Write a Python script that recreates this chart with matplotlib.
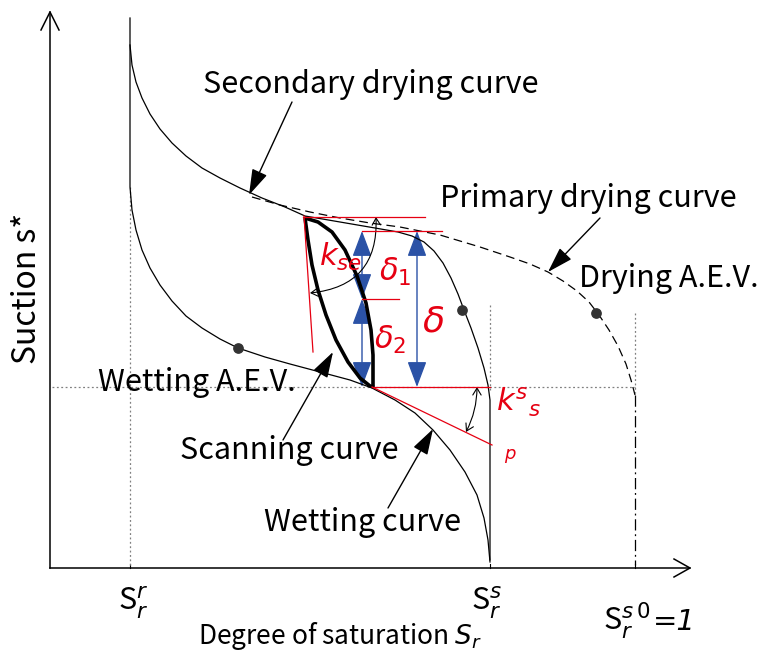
import matplotlib
matplotlib.use("Agg")
import matplotlib.pyplot as plt
from matplotlib.patches import FancyArrowPatch

plt.rcParams['font.family'] = ['Noto Sans CJK JP', 'DejaVu Sans']
plt.rcParams['mathtext.fontset'] = 'dejavusans'

# Schematic drawn in picture coordinates (x right, y down)
# Secondary drying curve (solid), ends on the S_r^s vertical
sec_dry_x = [130, 130, 132, 136, 142, 150, 160, 172, 186, 202, 220, 240, 262, 285, 305, 340, 375, 398, 412, 424, 434, 443, 451, 458, 464, 471, 478, 484, 488, 490, 490]
sec_dry_y = [18, 45, 65, 82, 98, 114, 129, 143, 156, 168, 178, 188, 198, 207, 216, 222, 228, 232, 236, 242, 251, 263, 278, 294, 310, 328, 348, 368, 385, 400, 560]

# Primary drying curve (dashed)
pri_dry_x = [252, 280, 310, 340, 370, 400, 440, 480, 510, 530, 548, 563, 577, 589, 599, 609, 618, 626, 631, 635]
pri_dry_y = [197, 205, 212, 218, 223, 227, 235, 247, 257, 264, 272, 281, 291, 302, 315, 330, 346, 364, 380, 395]

# Wetting curve
wet_x = [130, 130, 132, 136, 142, 150, 160, 172, 186, 202, 220, 238, 265, 290, 320, 350, 372, 395, 415, 433, 450, 465, 477, 484, 488, 490]
wet_y = [45, 187, 210, 230, 250, 268, 285, 301, 316, 328, 339, 348, 357, 364, 372, 380, 388, 400, 413, 430, 450, 472, 495, 518, 540, 562]

# Scanning curve, two branches
scan_l_x = [305, 308, 312, 318, 326, 336, 348, 360, 370, 374]
scan_l_y = [218, 240, 265, 290, 315, 340, 362, 378, 386, 387]
scan_r_x = [305, 318, 332, 345, 357, 366, 371, 373, 373]
scan_r_y = [218, 222, 232, 250, 276, 303, 330, 355, 387]

# A.E.V. points
aev_x = [238, 462, 596]
aev_y = [348, 310, 313]

# levels
s_top, s_mid1, s_mid2, s_bot = 217, 231, 299, 387
sr_r, sr_s, sr_1 = 130, 490, 635

fig = plt.figure(figsize=(7.63, 6.54), dpi=100)
ax = fig.add_axes([0, 0, 1, 1])
ax.set_xlim(0, 763)
ax.set_ylim(654, 0)
ax.axis('off')

K = 'black'
RED = '#e60012'
BLUE = '#2b52a6'
GRAY = '#808080'

# axes with open arrow heads
ax.plot([50, 50], [568, 12], color=K, lw=1.1)
ax.plot([41, 50, 59], [30, 12, 30], color=K, lw=1.1)
ax.plot([50, 690], [568, 568], color=K, lw=1.1)
ax.plot([674, 690, 674], [559, 568, 577], color=K, lw=1.1)
for xt in [sr_r, sr_s, sr_1]:
    ax.plot([xt, xt], [568, 564], color=K, lw=0.8)

# dotted guides
ax.plot([52, sr_1], [s_bot, s_bot], color=GRAY, lw=0.9, ls=(0, (1.5, 2)))
ax.plot([sr_r, sr_r], [187, 566], color=GRAY, lw=0.9, ls=(0, (1.5, 2)))
ax.plot([sr_s, sr_s], [305, 390], color=GRAY, lw=0.9, ls=(0, (1.5, 2)))
ax.plot([sr_1, sr_1], [313, 393], color=GRAY, lw=0.9, ls=(0, (1.5, 2)))

# curves
ax.plot(sec_dry_x, sec_dry_y, color=K, lw=0.9)
ax.plot(pri_dry_x, pri_dry_y, color=K, lw=0.9, ls=(0, (7, 4)))
ax.plot([sr_1, sr_1], [395, 565], color=K, lw=0.9, ls=(0, (9, 3, 1.5, 3)))
ax.plot(wet_x, wet_y, color=K, lw=0.9)
ax.plot(scan_l_x, scan_l_y, color=K, lw=2.6, solid_capstyle='butt')
ax.plot(scan_r_x, scan_r_y, color=K, lw=2.6, solid_capstyle='butt')
ax.scatter(aev_x, aev_y, s=45, color='#333333', zorder=5)

# red construction lines
ax.plot([303, 425], [s_top, s_top], color=RED, lw=0.9)
ax.plot([362, 442], [s_mid1, s_mid1], color=RED, lw=0.9)
ax.plot([362, 399], [s_mid2, s_mid2], color=RED, lw=0.9)
ax.plot([372, 490], [s_bot, s_bot], color=RED, lw=0.9)
ax.plot([304, 313], [216, 352], color=RED, lw=0.9)
ax.plot([372, 492], [s_bot, 445], color=RED, lw=0.9)

# blue double arrows
def dbl(x, y0, y1):
    ax.add_patch(FancyArrowPatch((x, y0), (x, y1), arrowstyle='<|-|>,head_length=1.6,head_width=0.6',
                                 mutation_scale=10, color=BLUE, lw=1.0, shrinkA=0, shrinkB=0))

dbl(362, s_mid1, s_mid2)
dbl(362, s_mid2, s_bot)
dbl(417, s_mid1, s_bot)

# angle arcs
ax.add_patch(FancyArrowPatch((376, s_top), (310, 293), arrowstyle='<->,head_length=0.5,head_width=0.3',
                             connectionstyle='arc3,rad=-0.47', mutation_scale=10, color=K, lw=0.8,
                             shrinkA=0, shrinkB=0))
ax.add_patch(FancyArrowPatch((477, s_bot), (466, 432), arrowstyle='<->,head_length=0.5,head_width=0.3',
                             connectionstyle='arc3,rad=-0.12', mutation_scale=10, color=K, lw=0.8,
                             shrinkA=0, shrinkB=0))

# pointer arrows
ap = dict(arrowstyle='-|>,head_length=1.6,head_width=0.5', color=K, lw=1.0, mutation_scale=10,
          shrinkA=0, shrinkB=0)
ax.annotate('', xy=(249, 195), xytext=(292, 102), arrowprops=ap)
ax.annotate('', xy=(548, 272), xytext=(600, 218), arrowprops=ap)
ax.annotate('', xy=(333, 352), xytext=(283, 440), arrowprops=ap)
ax.annotate('', xy=(433, 429), xytext=(388, 508), arrowprops=ap)

# labels
fs = 22
ax.text(371, 85, 'Secondary drying curve', fontsize=fs, ha='center', va='center')
ax.text(588, 198, 'Primary drying curve', fontsize=fs, ha='center', va='center')
ax.text(669, 278, 'Drying A.E.V.', fontsize=fs, ha='center', va='center')
ax.text(197, 383, 'Wetting A.E.V.', fontsize=fs, ha='center', va='center')
ax.text(289, 450, 'Scanning curve', fontsize=fs, ha='center', va='center')
ax.text(363, 523, 'Wetting curve', fontsize=fs, ha='center', va='center')
ax.text(27, 288, 'Suction s*', fontsize=23, rotation=90, ha='center', va='center')
ax.text(340, 636, r'Degree of saturation $S_r$', fontsize=19, ha='center', va='center')
ax.text(133, 603, r'S$_r^r$', fontsize=22, ha='center', va='center')
ax.text(487, 603, r'S$_r^s$', fontsize=22, ha='center', va='center')
ax.text(603, 630, r'S$_r^{s\,0}$', fontsize=22, ha='left', va='baseline')
ax.text(653, 630, '=1', fontsize=21, family='DejaVu Sans', style='italic', ha='left', va='baseline')

ax.text(340, 257, r'$k_{se}$', fontsize=22, color=RED, ha='center', va='center')
ax.text(395, 272, r'$\delta_1$', fontsize=22, color=RED, ha='center', va='center')
ax.text(390, 340, r'$\delta_2$', fontsize=22, color=RED, ha='center', va='center')
ax.text(433, 322, r'$\delta$', fontsize=26, color=RED, ha='center', va='center')
ax.text(518, 402, r'$k^s{}_s$', fontsize=22, color=RED, ha='center', va='center')
ax.text(510, 456, r'$p$', fontsize=13, color=RED, ha='center', va='center')

fig.savefig('out.png', dpi=100)
